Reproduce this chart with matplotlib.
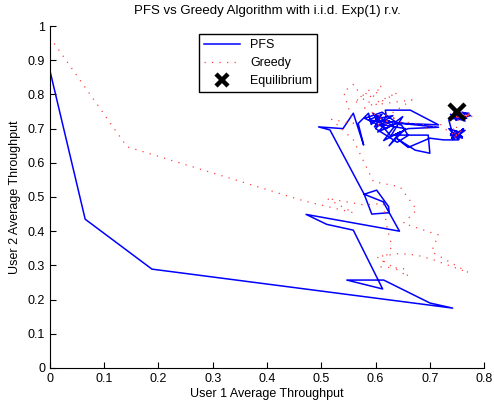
import matplotlib
matplotlib.use('Agg')
import matplotlib.pyplot as plt

plt.rcParams['font.family'] = ['Liberation Sans', 'DejaVu Sans']

# PFS trajectory (user 1, user 2 average throughput)
pfs_x = [0.000, 0.000, 0.065, 0.188, 0.742, 0.700, 0.615, 0.547, 0.613, 0.559,
         0.510, 0.472, 0.644, 0.614, 0.579, 0.593, 0.625, 0.624, 0.602, 0.579,
         0.516, 0.495, 0.540, 0.559, 0.578, 0.568, 0.587,
         0.592, 0.610, 0.598, 0.625, 0.604, 0.640, 0.612, 0.580, 0.620, 0.650,
         0.628, 0.606, 0.595, 0.634, 0.615, 0.645, 0.625, 0.655, 0.610, 0.600,
         0.632, 0.618, 0.648, 0.660, 0.640, 0.600, 0.620, 0.618, 0.664, 0.716,
         0.655, 0.600, 0.612, 0.587, 0.716, 0.660, 0.633, 0.697, 0.700, 0.673,
         0.640, 0.660, 0.700, 0.725, 0.753,
         0.745, 0.760, 0.738, 0.765, 0.748, 0.735, 0.758, 0.742, 0.762, 0.750,
         0.744, 0.756, 0.740, 0.752, 0.760, 0.746, 0.738, 0.754, 0.748, 0.742,
         0.735, 0.752, 0.768, 0.742, 0.760, 0.775, 0.748, 0.738, 0.765, 0.755,
         0.772, 0.745, 0.740, 0.758, 0.750, 0.744, 0.762, 0.748, 0.756, 0.740,
         0.752, 0.746]
pfs_y = [0.000, 0.870, 0.435, 0.289, 0.175, 0.190, 0.257, 0.257, 0.231, 0.403,
         0.420, 0.449, 0.400, 0.486, 0.508, 0.450, 0.454, 0.472, 0.520, 0.508,
         0.696, 0.705, 0.700, 0.745, 0.652, 0.715, 0.745,
         0.712, 0.738, 0.705, 0.722, 0.690, 0.716, 0.748, 0.730, 0.700, 0.735,
         0.678, 0.720, 0.745, 0.705, 0.665, 0.690, 0.650, 0.700, 0.712, 0.728,
         0.738, 0.725, 0.710, 0.680, 0.660, 0.700, 0.735, 0.754, 0.754, 0.711,
         0.715, 0.725, 0.742, 0.725, 0.704, 0.700, 0.681, 0.681, 0.628, 0.637,
         0.670, 0.645, 0.672, 0.667, 0.667,
         0.690, 0.672, 0.685, 0.695, 0.675, 0.700, 0.688, 0.668, 0.700, 0.685,
         0.678, 0.692, 0.672, 0.682, 0.676, 0.688, 0.680, 0.670, 0.694, 0.684,
         0.725, 0.740, 0.730, 0.735, 0.748, 0.738, 0.728, 0.742, 0.722, 0.735,
         0.745, 0.748, 0.730, 0.726, 0.742, 0.738, 0.732, 0.724, 0.744, 0.736,
         0.728, 0.740]

# Greedy trajectory
greedy_x = [0.000, 0.142, 0.467, 0.559, 0.510, 0.578, 0.614, 0.621, 0.630, 0.608,
            0.651, 0.660, 0.602, 0.645, 0.676, 0.707, 0.771, 0.703, 0.707, 0.716,
            0.651, 0.676, 0.645, 0.596, 0.593, 0.559, 0.519, 0.541, 0.559,
            0.541, 0.560, 0.575, 0.590, 0.560, 0.600, 0.611, 0.580, 0.620, 0.640,
            0.600, 0.667, 0.630, 0.610, 0.590, 0.620, 0.640, 0.600, 0.650, 0.700,
            0.690, 0.720, 0.735, 0.750, 0.742, 0.758, 0.740, 0.752, 0.745, 0.760,
            0.748, 0.755, 0.780, 0.762, 0.745, 0.770, 0.752, 0.778, 0.760, 0.748,
            0.772, 0.756]
greedy_y = [0.967, 0.647, 0.489, 0.454, 0.496, 0.477, 0.481, 0.413, 0.355, 0.296,
            0.291, 0.267, 0.325, 0.335, 0.330, 0.316, 0.279, 0.340, 0.355, 0.389,
            0.423, 0.462, 0.530, 0.545, 0.555, 0.667, 0.727, 0.720, 0.715,
            0.808, 0.830, 0.790, 0.815, 0.775, 0.800, 0.827, 0.760, 0.790, 0.805,
            0.770, 0.784, 0.745, 0.735, 0.750, 0.720, 0.735, 0.710, 0.720, 0.710,
            0.700, 0.712, 0.690, 0.680, 0.670, 0.692, 0.700, 0.676, 0.688, 0.682,
            0.694, 0.745, 0.735, 0.738, 0.730, 0.742, 0.735, 0.740, 0.748, 0.736,
            0.732, 0.744]

eq_x = [0.75]
eq_y = [0.75]

xticks = [0, 0.1, 0.2, 0.3, 0.4, 0.5, 0.6, 0.7, 0.8]
xlabels = ['0', '0.1', '0.2', '0.3', '0.4', '0.5', '0.6', '0.7', '0.8']
yticks = [0, 0.1, 0.2, 0.3, 0.4, 0.5, 0.6, 0.7, 0.8, 0.9, 1]
ylabels = ['0', '0.1', '0.2', '0.3', '0.4', '0.5', '0.6', '0.7', '0.8', '0.9', '1']

fig = plt.figure(figsize=(4.94, 4.07), dpi=100)
ax = fig.add_axes([0.101, 0.096, 0.879, 0.840])

ax.plot(pfs_x, pfs_y, color='#0000ff', lw=1.1, label='PFS')
ax.plot(greedy_x, greedy_y, color='#ff4040', lw=0.9, linestyle=(0, (1, 5)), label='Greedy')
ax.plot(eq_x, eq_y, 'x', color='black', ms=11, mew=3.2, label='Equilibrium', zorder=5)

ax.set_xlim(0, 0.8)
ax.set_ylim(0, 1)
ax.set_xticks(xticks)
ax.set_xticklabels(xlabels)
ax.set_yticks(yticks)
ax.set_yticklabels(ylabels)
ax.tick_params(direction='in', length=4, labelsize=9, width=0.8)
ax.spines['top'].set_visible(False)
ax.spines['right'].set_visible(False)

ax.set_title('PFS vs Greedy Algorithm with i.i.d. Exp(1) r.v.', fontsize=9.5, pad=9)
ax.set_xlabel('User 1 Average Throughput', fontsize=9, labelpad=2)
ax.set_ylabel('User 2 Average Throughput', fontsize=9, labelpad=5)

leg = ax.legend(loc='upper left', bbox_to_anchor=(0.343, 0.977), borderaxespad=0,
                fontsize=9, fancybox=False, edgecolor='black', framealpha=1,
                handlelength=2.9, markerscale=0.8)
leg.get_frame().set_linewidth(1.0)

fig.savefig('out.png', dpi=100)
